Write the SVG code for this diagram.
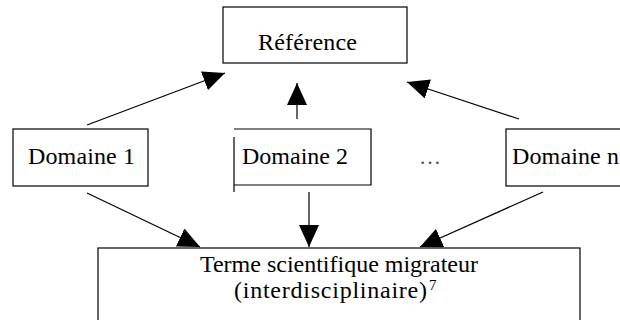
<svg xmlns="http://www.w3.org/2000/svg" width="620" height="320" viewBox="0 0 620 320">
<style>
.box{fill:#fff;stroke:#000;stroke-width:1.2}
.edge{fill:none;stroke:#000;stroke-width:1.2}
.t{font-family:"Liberation Serif","Times New Roman",serif;font-size:24px;fill:#000}
</style>
<defs>
<marker id="ah" markerUnits="userSpaceOnUse" markerWidth="22" markerHeight="20" viewBox="0 0 22 20" refX="22" refY="10" orient="auto">
<path d="M0,0 L22,10 L0,20 z" fill="#000"/>
</marker>
</defs>
<rect width="620" height="320" fill="#fff"/>
<g id="connectors">
<line class="edge" x1="87" y1="125" x2="225" y2="73" marker-end="url(#ah)"/>
<line class="edge" x1="297" y1="119" x2="297" y2="83" marker-end="url(#ah)"/>
<line class="edge" x1="519" y1="119" x2="407" y2="82" marker-end="url(#ah)"/>
<line class="edge" x1="87" y1="193" x2="200" y2="247" marker-end="url(#ah)"/>
<line class="edge" x1="309" y1="192" x2="309" y2="247" marker-end="url(#ah)"/>
<line class="edge" x1="543" y1="192" x2="420" y2="247" marker-end="url(#ah)"/>
</g>
<g id="reference">
<rect class="box" x="223" y="7" width="184" height="56"/>
<text class="t" x="258" y="50" textLength="99" lengthAdjust="spacing">Référence</text>
</g>
<g id="domaine1">
<rect class="box" x="13" y="129" width="135" height="57"/>
<text class="t" x="28" y="164" textLength="107" lengthAdjust="spacing">Domaine 1</text>
</g>
<g id="domaine2">
<rect x="234" y="129" width="137" height="56" fill="#fff"/>
<path class="edge" d="M234,129 H371 V185 H234 M234,137 V192"/>
<text class="t" x="242" y="164" textLength="106" lengthAdjust="spacing">Domaine 2</text>
</g>
<g id="ellipsis">
<text class="t" x="419" y="164" style="font-size:22px;fill:#555">…</text>
</g>
<g id="domaineN">
<rect class="box" x="506" y="129" width="140" height="57"/>
<text class="t" x="512" y="164" textLength="107" lengthAdjust="spacing">Domaine n</text>
</g>
<g id="terme">
<rect class="box" x="98" y="248" width="482" height="90"/>
<text class="t" x="200" y="272" textLength="278" lengthAdjust="spacing">Terme scientifique migrateur</text>
<text class="t" x="234" y="298" textLength="193" lengthAdjust="spacing">(interdisciplinaire)</text>
<text class="t" x="429" y="290" style="font-size:15px">7</text>
</g>
</svg>
